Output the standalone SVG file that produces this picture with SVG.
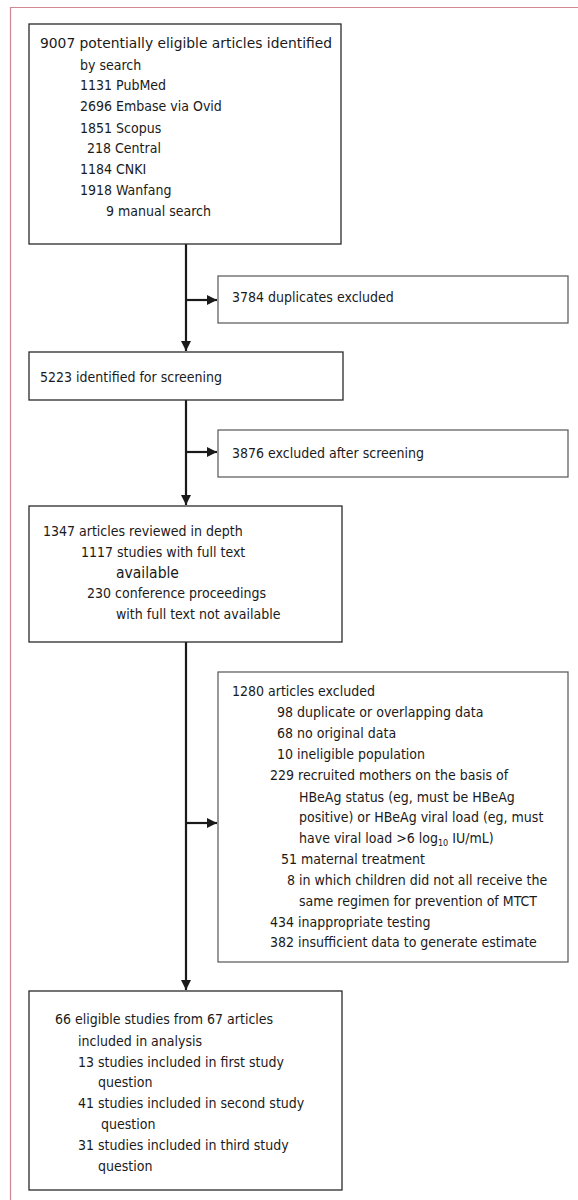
<svg xmlns="http://www.w3.org/2000/svg" width="578" height="1200" viewBox="0 0 578 1200">
<defs>
<style>
.box{fill:#fff;stroke:#2a2a2a;stroke-width:1.3}
.lbox{fill:#fff;stroke:#555;stroke-width:1.2}
text{font-family:"DejaVu Sans Condensed","DejaVu Sans",sans-serif;font-size:14px;fill:#1a1a1a}
.big{font-size:15.5px}
.sub{font-size:9px}
.conn{stroke:#1a1a1a;stroke-width:2.2;fill:none}
.frame{stroke:#d08894;stroke-width:1.2;fill:none}
</style>
<marker id="ah" viewBox="0 0 10 10" refX="10" refY="5" markerWidth="10" markerHeight="10" markerUnits="userSpaceOnUse" orient="auto">
<path d="M0,0 L10,5 L0,10 z" fill="#1a1a1a"/>
</marker>
</defs>
<rect width="578" height="1200" fill="#fff"/>
<path class="frame" d="M10.5,1200 V7.5 H578"/>

<g id="connectors">
<line class="conn" x1="186" y1="244" x2="186" y2="351" marker-end="url(#ah)"/>
<line class="conn" x1="186" y1="300" x2="217" y2="300" marker-end="url(#ah)"/>
<line class="conn" x1="186" y1="400" x2="186" y2="505" marker-end="url(#ah)"/>
<line class="conn" x1="186" y1="452" x2="217" y2="452" marker-end="url(#ah)"/>
<line class="conn" x1="186" y1="642" x2="186" y2="990" marker-end="url(#ah)"/>
<line class="conn" x1="186" y1="823" x2="217" y2="823" marker-end="url(#ah)"/>
</g>

<g id="search">
<rect class="box" x="29" y="24" width="312" height="220"/>
<text x="40" y="48" textLength="292" lengthAdjust="spacingAndGlyphs">9007 potentially eligible articles identified</text>
<text x="80" y="70">by search</text>
<text x="80" y="90">1131 PubMed</text>
<text x="80" y="111">2696 Embase via Ovid</text>
<text x="80" y="133">1851 Scopus</text>
<text x="87" y="153">218 Central</text>
<text x="80" y="174">1184 CNKI</text>
<text x="80" y="195">1918 Wanfang</text>
<text x="106" y="216">9 manual search</text>
</g>

<g id="duplicates">
<rect class="lbox" x="218" y="276" width="350" height="47"/>
<text x="232" y="302">3784 duplicates excluded</text>
</g>

<g id="screening">
<rect class="box" x="29" y="352" width="314" height="48"/>
<text x="40" y="382">5223 identified for screening</text>
</g>

<g id="excluded-screening">
<rect class="lbox" x="218" y="430" width="350" height="47"/>
<text x="232" y="458">3876 excluded after screening</text>
</g>

<g id="reviewed">
<rect class="box" x="29" y="506" width="313" height="136"/>
<text x="43" y="536">1347 articles reviewed in depth</text>
<text x="81" y="557">1117 studies with full text</text>
<text class="big" x="116" y="578">available</text>
<text x="87" y="598">230 conference proceedings</text>
<text x="116" y="619">with full text not available</text>
</g>

<g id="excluded-articles">
<rect class="lbox" x="218" y="672" width="350" height="290"/>
<text x="232" y="696">1280 articles excluded</text>
<text x="277" y="717">98 duplicate or overlapping data</text>
<text x="277" y="738">68 no original data</text>
<text x="277" y="759">10 ineligible population</text>
<text x="270" y="780">229 recruited mothers on the basis of</text>
<text x="299" y="802">HBeAg status (eg, must be HBeAg</text>
<text x="299" y="822">positive) or HBeAg viral load (eg, must</text>
<text x="299" y="843">have viral load &gt;6 log<tspan class="sub" dy="3">10</tspan><tspan dy="-3"> IU/mL)</tspan></text>
<text x="281" y="864">51 maternal treatment</text>
<text x="287" y="885">8 in which children did not all receive the</text>
<text x="299" y="906">same regimen for prevention of MTCT</text>
<text x="270" y="927">434 inappropriate testing</text>
<text x="270" y="947">382 insufficient data to generate estimate</text>
</g>

<g id="included">
<rect class="box" x="29" y="991" width="313" height="199"/>
<text x="55" y="1024">66 eligible studies from 67 articles</text>
<text x="78" y="1046">included in analysis</text>
<text x="78" y="1067">13 studies included in first study</text>
<text x="98" y="1087">question</text>
<text x="78" y="1108">41 studies included in second study</text>
<text x="101" y="1129">question</text>
<text x="78" y="1150">31 studies included in third study</text>
<text x="98" y="1171">question</text>
</g>
</svg>
